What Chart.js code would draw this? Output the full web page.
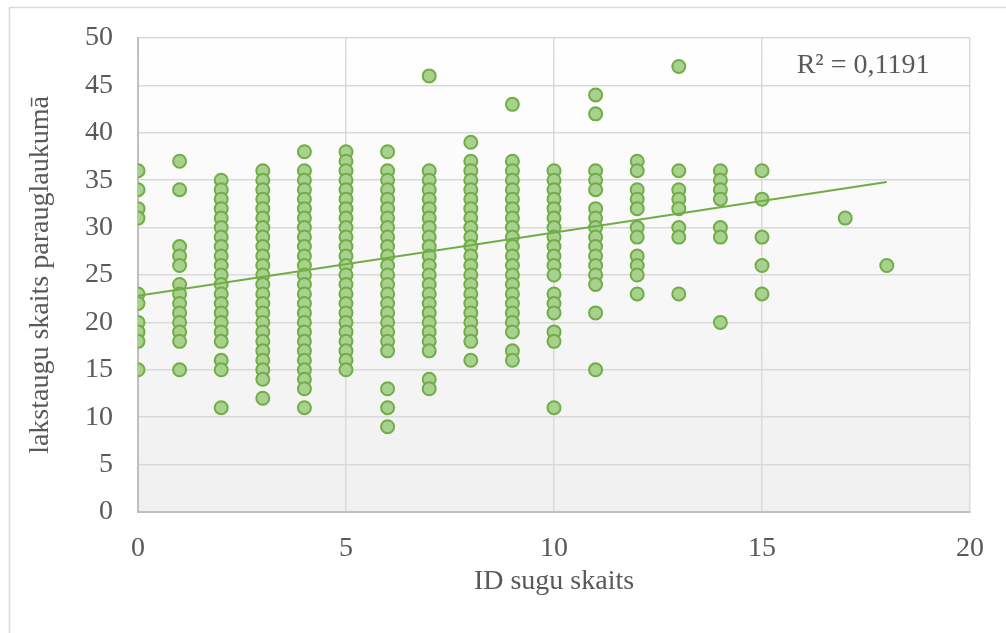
<!DOCTYPE html>
<html>
<head>
<meta charset="utf-8">
<script src="https://cdn.jsdelivr.net/npm/chart.js@4.4.1/dist/chart.umd.min.js"></script>
<style>
  body { margin: 0; background: #ffffff; }
  canvas { display: block; }
</style>
</head>
<body>
<canvas id="chart" width="1006" height="633"></canvas>
<script>
// ID sugu skaits (x) -> lakstaugu skaits parauglaukumā (y), one array per x value
const idCounts = [0, 1, 2, 3, 4, 5, 6, 7, 8, 9, 10, 11, 12, 13, 14, 15, 17, 18];
const plants0 = [36, 34, 32, 31, 23, 22, 20, 19, 18, 15];
const plants1 = [37, 34, 28, 27, 26, 24, 23, 22, 21, 20, 19, 18, 15];
const plants2 = [35, 34, 33, 32, 31, 30, 29, 28, 27, 26, 25, 24, 23, 22, 21, 20, 19, 18, 16, 15, 11];
const plants3 = [36, 35, 34, 33, 32, 31, 30, 29, 28, 27, 26, 25, 24, 23, 22, 21, 20, 19, 18, 17, 16, 15, 14, 12];
const plants4 = [38, 36, 35, 34, 33, 32, 31, 30, 29, 28, 27, 26, 25, 24, 23, 22, 21, 20, 19, 18, 17, 16, 15, 14, 13, 11];
const plants5 = [38, 37, 36, 35, 34, 33, 32, 31, 30, 29, 28, 27, 26, 25, 24, 23, 22, 21, 20, 19, 18, 17, 16, 15];
const plants6 = [38, 36, 35, 34, 33, 32, 31, 30, 29, 28, 27, 26, 25, 24, 23, 22, 21, 20, 19, 18, 17, 13, 11, 9];
const plants7 = [46, 36, 35, 34, 33, 32, 31, 30, 29, 28, 27, 26, 25, 24, 23, 22, 21, 20, 19, 18, 17, 14, 13];
const plants8 = [39, 37, 36, 35, 34, 33, 32, 31, 30, 29, 28, 27, 26, 25, 24, 23, 22, 21, 20, 19, 18, 16];
const plants9 = [43, 37, 36, 35, 34, 33, 32, 31, 30, 29, 28, 27, 26, 25, 24, 23, 22, 21, 20, 19, 17, 16];
const plants10 = [36, 35, 34, 33, 32, 31, 30, 29, 28, 27, 26, 25, 23, 22, 21, 19, 18, 11];
const plants11 = [44, 42, 36, 35, 34, 32, 31, 30, 29, 28, 27, 26, 25, 24, 21, 15];
const plants12 = [37, 36, 34, 33, 32, 30, 29, 27, 26, 25, 23];
const plants13 = [47, 36, 34, 33, 32, 30, 29, 23];
const plants14 = [36, 35, 34, 33, 30, 29, 20];
const plants15 = [36, 33, 29, 26, 23];
const plants17 = [31];
const plants18 = [26];
const plantsByCount = [plants0, plants1, plants2, plants3, plants4, plants5, plants6, plants7, plants8,
  plants9, plants10, plants11, plants12, plants13, plants14, plants15, plants17, plants18];

// linear trendline as shown in the picture
const trendX = [0, 18];
const trendY = [22.8, 34.8];
const rSquaredLabel = "R² = 0,1191";

const xTicks = [0, 5, 10, 15, 20];
const yTicks = [0, 5, 10, 15, 20, 25, 30, 35, 40, 45, 50];

let points = [];
idCounts.forEach((x, i) => {
  plantsByCount[i].forEach((y) => points.push({ x: x, y: y }));
});
let trend = trendX.map((x, i) => ({ x: x, y: trendY[i] }));

const textColor = "#595959";
const fontFamily = "'Liberation Serif', 'Times New Roman', serif";

// plot background gradient + outer chart border
const backdrop = {
  id: "backdrop",
  beforeDraw(chart) {
    const { ctx, chartArea: a } = chart;
    ctx.save();
    let g = ctx.createLinearGradient(0, a.top, 0, a.bottom);
    g.addColorStop(0, "#ffffff");
    g.addColorStop(1, "#f0f0f0");
    ctx.fillStyle = g;
    ctx.fillRect(a.left, a.top, a.right - a.left, a.bottom - a.top);
    ctx.strokeStyle = "#d9d9d9";
    ctx.lineWidth = 1.5;
    ctx.strokeRect(9.5, 7.5, 1200, 1200);
    ctx.restore();
  },
  afterDraw(chart) {
    const { ctx, scales } = chart;
    ctx.save();
    ctx.fillStyle = textColor;
    ctx.font = "28px " + fontFamily;
    ctx.textAlign = "center";
    ctx.textBaseline = "middle";
    ctx.fillText(rSquaredLabel, scales.x.getPixelForValue(17.43), scales.y.getPixelForValue(47.05));
    ctx.restore();
  },
};

new Chart(document.getElementById("chart").getContext("2d"), {
  type: "scatter",
  data: {
    datasets: [
      {
        type: "line",
        label: "trend",
        data: trend,
        borderColor: "#70ad47",
        borderWidth: 2,
        pointRadius: 0,
        fill: false,
        order: 0,
      },
      {
        label: "points",
        data: points,
        backgroundColor: "#a9d18e",
        borderColor: "#70ad47",
        borderWidth: 2,
        pointRadius: 6.5,
        order: 1,
      },
    ],
  },
  options: {
    responsive: false,
    animation: false,
    layout: { padding: { left: 0, right: 36, top: 38, bottom: 0 } },
    plugins: {
      legend: { display: false },
      tooltip: { enabled: false },
    },
    scales: {
      x: {
        type: "linear",
        min: 0,
        max: 20,
        afterFit: (scale) => {
          scale.height = 121;
          scale.paddingLeft = 0;
          scale.paddingRight = 0;
        },
        afterBuildTicks: (scale) => { scale.ticks = xTicks.map((v) => ({ value: v })); },
        ticks: { color: textColor, font: { family: fontFamily, size: 28 }, padding: 20 },
        grid: { color: "#d9d9d9", lineWidth: 1.5, drawTicks: false },
        border: { color: "#bfbfbf", width: 2 },
        title: {
          display: true,
          text: "ID sugu skaits",
          color: textColor,
          font: { family: fontFamily, size: 28 },
          padding: { top: 0, bottom: 35 },
        },
      },
      y: {
        type: "linear",
        min: 0,
        max: 50,
        afterFit: (scale) => {
          scale.width = 138;
          scale.paddingTop = 0;
          scale.paddingBottom = 0;
        },
        afterBuildTicks: (scale) => { scale.ticks = yTicks.map((v) => ({ value: v })); },
        ticks: { color: textColor, font: { family: fontFamily, size: 28 }, padding: 25 },
        grid: { color: "#d9d9d9", lineWidth: 1.5, drawTicks: false },
        border: { color: "#bfbfbf", width: 2 },
        title: {
          display: true,
          text: "lakstaugu skaits parauglaukumā",
          color: textColor,
          font: { family: fontFamily, size: 28 },
          padding: { top: 24, bottom: 0 },
        },
      },
    },
  },
  plugins: [backdrop],
});
</script>
</body>
</html>
